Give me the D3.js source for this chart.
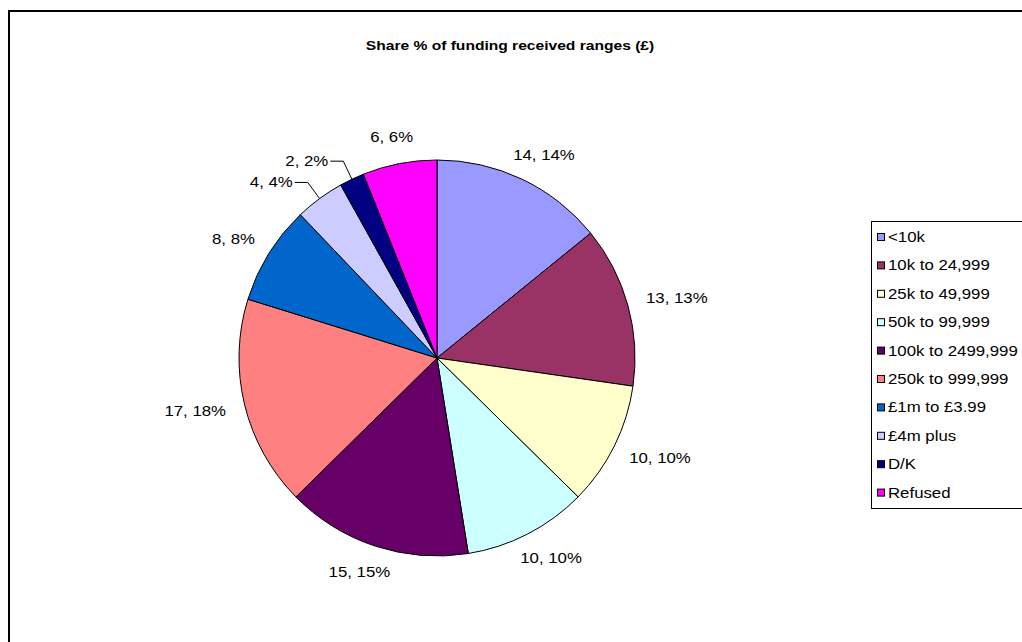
<!DOCTYPE html>
<html>
<head>
<meta charset="utf-8">
<script src="https://cdn.jsdelivr.net/npm/d3@7"></script>
<style>
  body { margin: 0; background: #fff; }
  text { font-family: "Liberation Sans", Arial, sans-serif; fill: #000; }
</style>
</head>
<body>
<div id="chart"></div>
<script>
// data
const categories = [
  "<10k",
  "10k to 24,999",
  "25k to 49,999",
  "50k to 99,999",
  "100k to 2499,999",
  "250k to 999,999",
  "£1m to £3.99",
  "£4m plus",
  "D/K",
  "Refused",
];
const values = [14, 13, 10, 10, 15, 17, 8, 4, 2, 6];
const percentLabels = ["14%", "13%", "10%", "10%", "15%", "18%", "8%", "4%", "2%", "6%"];
const colors = [
  "#9999FF", "#993366", "#FFFFCC", "#CCFFFF", "#660066",
  "#FF8080", "#0066CC", "#CCCCFF", "#000080", "#FF00FF",
];
const chartTitle = "Share % of funding received ranges (£)";

const width = 1022;
const height = 642;
const sx = 1.2; // text in the picture is drawn a bit wide
const fontSize = 14;

const svg = d3.select("#chart")
  .append("svg")
  .attr("width", width)
  .attr("height", height);

// outer chart border (runs off the right and bottom)
svg.append("rect")
  .attr("x", 9)
  .attr("y", 11)
  .attr("width", 1040)
  .attr("height", 660)
  .attr("fill", "#fff")
  .attr("stroke", "#000")
  .attr("stroke-width", 2);

// helper for wide text
function wideText(sel, x, y) {
  return sel.attr("transform", `translate(${x},${y}) scale(${sx},1)`);
}

// title
wideText(svg.append("text"), 510, 50)
  .attr("text-anchor", "middle")
  .attr("font-size", 13)
  .attr("font-weight", "bold")
  .text(chartTitle);

// pie
const cx = 437;
const cy = 358;
const r = 198;

const data = categories.map((c, i) => ({ name: c, value: values[i], pct: percentLabels[i], color: colors[i] }));

const pie = d3.pie().value((d) => d.value).sort(null);
const arc = d3.arc().innerRadius(0).outerRadius(r);
const arcs = pie(data);

const g = svg.append("g").attr("transform", `translate(${cx},${cy})`);

g.selectAll("path")
  .data(arcs)
  .join("path")
  .attr("d", arc)
  .attr("fill", (d) => d.data.color)
  .attr("stroke", "#000")
  .attr("stroke-width", 1);

// labels
const labels = g.append("g");
arcs.forEach((d) => {
  const mid = (d.startAngle + d.endAngle) / 2;
  const s = Math.sin(mid);
  const c = Math.cos(mid);
  const txt = `${d.data.value}, ${d.data.pct}`;
  if (d.data.value < 5) {
    // small slices get a leader line
    const ex = s * (r + 20);
    const ey = -c * (r + 20);
    labels.append("path")
      .attr("d", `M${s * r},${-c * r}L${ex},${ey}L${ex - 13},${ey}`)
      .attr("fill", "none")
      .attr("stroke", "#000")
      .attr("stroke-width", 1);
    wideText(labels.append("text"), ex - 15, ey)
      .attr("text-anchor", "end")
      .attr("dominant-baseline", "central")
      .attr("font-size", fontSize)
      .text(txt);
  } else {
    const t = labels.append("text")
      .attr("text-anchor", "middle")
      .attr("dominant-baseline", "central")
      .attr("font-size", fontSize)
      .text(txt);
    const w = t.node().getComputedTextLength() * sx;
    const h = 14;
    const ax = s * (r + 20) + s * w / 2;
    const ay = -c * (r + 20) - c * h / 2;
    wideText(t, ax, ay);
  }
});

// legend
const legendX = 871;
const legendTop = 221;
const legendStep = 28.4;

svg.append("rect")
  .attr("x", legendX + 0.5)
  .attr("y", legendTop + 0.5)
  .attr("width", 200)
  .attr("height", 287)
  .attr("fill", "#fff")
  .attr("stroke", "#000")
  .attr("stroke-width", 1);

const items = svg.append("g")
  .selectAll("g")
  .data(data)
  .join("g")
  .attr("transform", (d, i) => `translate(${legendX}, ${legendTop + 16 + i * legendStep})`);

items.append("rect")
  .attr("x", 6.5)
  .attr("y", -3.5)
  .attr("width", 7)
  .attr("height", 7)
  .attr("fill", (d) => d.color)
  .attr("stroke", "#000")
  .attr("stroke-width", 1);

items.each(function (d) {
  wideText(d3.select(this).append("text"), 17, 0)
    .attr("dominant-baseline", "central")
    .attr("font-size", fontSize)
    .text(d.name);
});
</script>
</body>
</html>
